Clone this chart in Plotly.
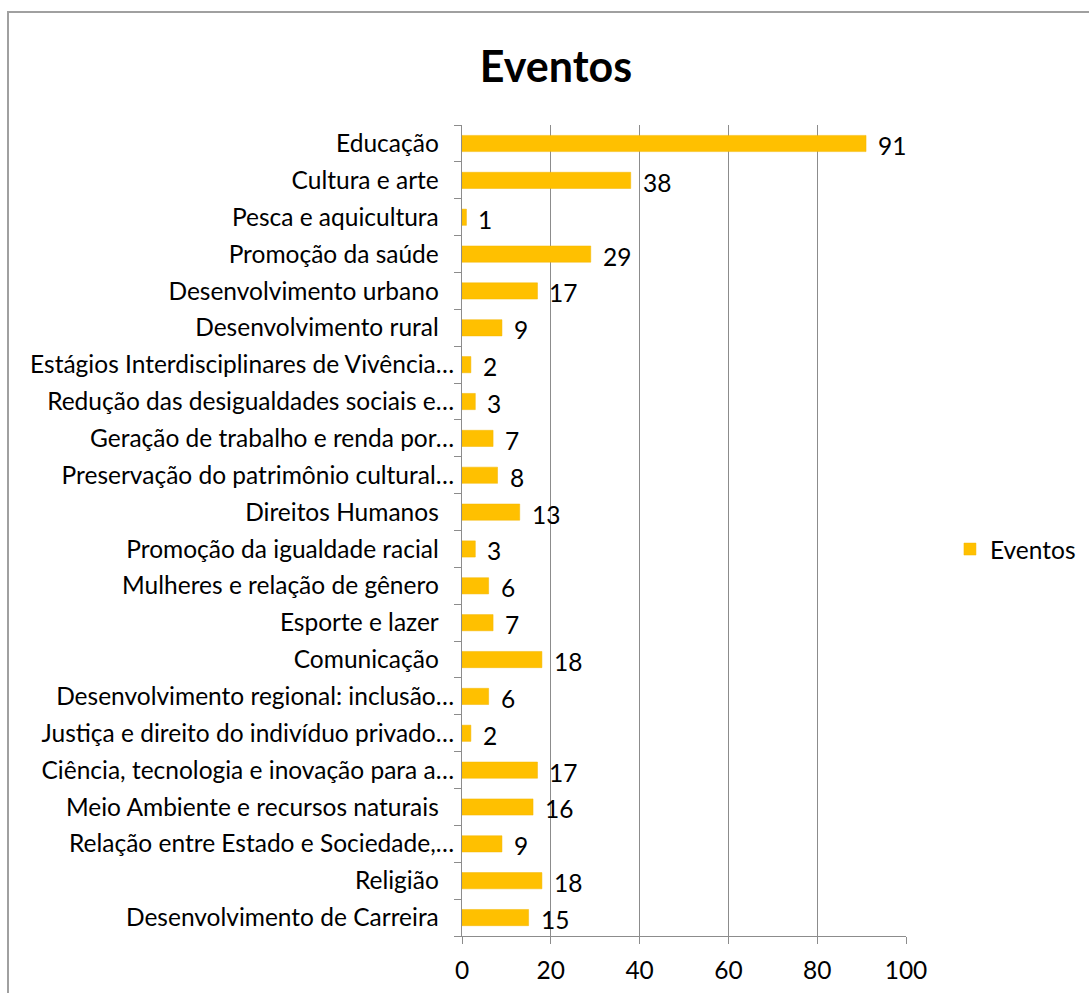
import plotly.graph_objects as go

categories = [
    "Educação",
    "Cultura e arte",
    "Pesca e aquicultura",
    "Promoção da saúde",
    "Desenvolvimento urbano",
    "Desenvolvimento rural",
    "Estágios Interdisciplinares de Vivência…",
    "Redução das desigualdades sociais e…",
    "Geração de trabalho e renda por…",
    "Preservação do patrimônio cultural…",
    "Direitos Humanos",
    "Promoção da igualdade racial",
    "Mulheres e relação de gênero",
    "Esporte e lazer",
    "Comunicação",
    "Desenvolvimento regional: inclusão…",
    "Justiça e direito do indivíduo privado…",
    "Ciência, tecnologia e inovação para a…",
    "Meio Ambiente e recursos naturais",
    "Relação entre Estado e Sociedade,…",
    "Religião",
    "Desenvolvimento de Carreira",
]
values = [91, 38, 1, 29, 17, 9, 2, 3, 7, 8, 13, 3, 6, 7, 18, 6, 2, 17, 16, 9, 18, 15]
x_ticks = [0, 20, 40, 60, 80, 100]
series_name = "Eventos"

FONT = "Lato, Carlito, Calibri, sans-serif"
GOLD = "#FFC000"
FS = 24.5

# Excel pads non-truncated labels so truncated ones (with "…") reach closer to the axis
tick_text = [c if c.endswith("…") else c + "\u2002\u2009" for c in categories]

fig = go.Figure()
fig.add_trace(go.Bar(
    x=values, y=categories, orientation="h", name=series_name,
    marker=dict(color=GOLD, line=dict(color="#F2B700", width=0.5)),
    showlegend=True,
))

annotations = []
for c, v in zip(categories, values):
    annotations.append(dict(
        x=v, y=c, xref="x", yref="y", text=str(v), showarrow=False,
        xanchor="left", yanchor="middle", xshift=10, yshift=-2,
        font=dict(family=FONT, size=FS, color="#000000"),
    ))

fig.update_layout(
    width=1089, height=993,
    margin=dict(l=462, r=183, t=125, b=57, autoexpand=False),
    paper_bgcolor="white", plot_bgcolor="white",
    title=dict(text="<b>Eventos</b>", x=556 / 1089, xanchor="center",
               y=1 - 67 / 993, yanchor="middle",
               font=dict(family=FONT, size=43, color="#000000")),
    bargap=0.56,
    font=dict(family=FONT, size=FS, color="#000000"),
    legend=dict(x=1.099, y=0.477, xanchor="left", yanchor="middle",
                font=dict(family=FONT, size=FS, color="#000000"),
                bgcolor="rgba(0,0,0,0)", itemwidth=30),
    annotations=annotations,
    shapes=[dict(type="rect", xref="paper", yref="paper",
                 x0=-454 / 444, x1=1.5, y0=-0.2, y1=1 + 113 / 811,
                 line=dict(color="#A0A0A0", width=2), layer="below")],
)
fig.update_xaxes(
    range=[0, 100], tickvals=x_ticks, showgrid=True, gridcolor="#8C8C8C", gridwidth=1,
    showline=True, linecolor="#8C8C8C", linewidth=1, ticks="outside", ticklen=7,
    tickcolor="#8C8C8C", tickfont=dict(family=FONT, size=FS), zeroline=False,
    ticklabelstandoff=6,
)
fig.update_yaxes(
    autorange="reversed", showline=True, linecolor="#8C8C8C", linewidth=1,
    ticks="outside", ticklen=7, tickcolor="#8C8C8C", tickson="boundaries",
    tickmode="array", tickvals=categories, ticktext=tick_text,
    tickfont=dict(family=FONT, size=FS), ticklabelstandoff=2, showgrid=False,
)
fig.write_html("out.html")
